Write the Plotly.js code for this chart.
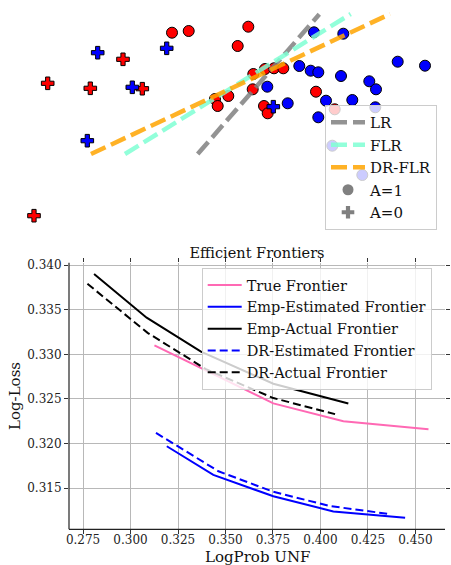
<!DOCTYPE html>
<html>
<head>
<meta charset="utf-8">
<script src="https://cdn.plot.ly/plotly-3.0.1.min.js"></script>
<style>html,body{margin:0;padding:0;background:#fff;}#chart{width:451px;height:565px;}</style>
</head>
<body>
<div id="chart"></div>
<script>
// ---------- Top panel: decision boundaries (feature space, no axes) ----------
const redCircleX = [172, 188.7, 248.3, 237.7, 253.3, 265, 274, 283.3, 252.7, 228.3, 215, 217.7, 264, 267.7, 316, 334.7];
const redCircleY = [32.7, 31, 26.7, 46, 74, 69, 68.3, 68.3, 89.3, 96, 99, 106, 106, 113.3, 91.7, 109.3];
const blueCircleX = [314, 343.3, 299.3, 310.7, 318.3, 341, 369.3, 376, 397.7, 425, 267.3, 287.7, 326, 352.3, 375.3, 318.3, 332.3, 362.3];
const blueCircleY = [32.3, 33.7, 66, 70.7, 72.3, 76, 81.3, 89.3, 61.7, 65.7, 86.7, 103.3, 100.7, 100, 107.3, 117.3, 145.7, 175];
const redCrossX = [47.7, 90.3, 123, 142.3, 34];
const redCrossY = [83.3, 88.3, 59.3, 88.7, 215.7];
const blueCrossX = [97.7, 166.7, 132.3, 87.3, 273.3];
const blueCrossY = [52.7, 48.3, 87.3, 140.7, 106.7];
const lrX = [197.7, 319.3], lrY = [154, 14.3];
const flrX = [125, 350.7], flrY = [154, 14];
const drflrX = [91, 390], drflrY = [154, 14];

// ---------- Bottom panel: efficient frontiers ----------
const trueX = [0.3126, 0.3440, 0.3752, 0.4121, 0.4569];
const trueY = [0.3310, 0.3277, 0.3245, 0.3225, 0.3216];
const empEstX = [0.3191, 0.3436, 0.3752, 0.4068, 0.4446];
const empEstY = [0.3197, 0.3165, 0.3141, 0.3124, 0.3117];
const empActX = [0.2808, 0.3085, 0.3371, 0.3752, 0.4147];
const empActY = [0.3390, 0.3341, 0.3303, 0.3267, 0.3245];
const drEstX = [0.3134, 0.3463, 0.3752, 0.4051, 0.4367];
const drEstY = [0.3212, 0.3169, 0.3146, 0.3130, 0.3121];
const drActX = [0.2773, 0.3090, 0.3400, 0.3752, 0.4077];
const drActY = [0.3379, 0.3324, 0.3283, 0.3251, 0.3233];

const W = 451, H = 565;
const FONT = 'DejaVu Serif, serif';
const topDomY = [1 - 240 / H, 1];
const botDomX = [69 / W, 445 / W];
const botDomY = [1 - 529.3 / H, 1 - 262.7 / H];

function pts(x, y, color, symbol, size) {
  return {x: x, y: y, xaxis: 'x', yaxis: 'y', mode: 'markers', type: 'scatter', showlegend: false,
    legend: 'legend', hoverinfo: 'skip',
    marker: {color: color, symbol: symbol, size: size, line: {color: '#000', width: 1}}};
}
function bound(x, y, name, color) {
  return {x: x, y: y, xaxis: 'x', yaxis: 'y', mode: 'lines', type: 'scatter', name: name,
    legend: 'legend', opacity: 0.85, line: {color: color, width: 4.5, dash: '16px,6px'}};
}
function front(x, y, name, color, dash) {
  return {x: x, y: y, xaxis: 'x2', yaxis: 'y2', mode: 'lines', type: 'scatter', name: name,
    legend: 'legend2', line: {color: color, width: 2, dash: dash}};
}

const traces = [
  pts(redCircleX, redCircleY, '#ff0000', 'circle', 11),
  pts(blueCircleX, blueCircleY, '#0000ff', 'circle', 11),
  pts(redCrossX, redCrossY, '#ff0000', 'cross', 10.5),
  pts(blueCrossX, blueCrossY, '#0000ff', 'cross', 10.5),
  bound(lrX, lrY, 'LR', '#808080'),
  bound(flrX, flrY, 'FLR', '#7fffd4'),
  bound(drflrX, drflrY, 'DR-FLR', '#ffa500'),
  {x: [null], y: [null], xaxis: 'x', yaxis: 'y', mode: 'markers', type: 'scatter', name: 'A=1', legend: 'legend',
    marker: {color: '#808080', symbol: 'circle', size: 11}},
  {x: [null], y: [null], xaxis: 'x', yaxis: 'y', mode: 'markers', type: 'scatter', name: 'A=0', legend: 'legend',
    marker: {color: '#808080', symbol: 'cross', size: 10.5}},
  front(trueX, trueY, 'True Frontier', '#ff69b4', 'solid'),
  front(empEstX, empEstY, 'Emp-Estimated Frontier', '#0000ff', 'solid'),
  front(empActX, empActY, 'Emp-Actual Frontier', '#000000', 'solid'),
  front(drEstX, drEstY, 'DR-Estimated Frontier', '#0000ff', '8px,4px'),
  front(drActX, drActY, 'DR-Actual Frontier', '#000000', '8px,4px')
];

const legendBase = {
  bgcolor: 'rgba(255,255,255,0.8)', bordercolor: '#cccccc', borderwidth: 1,
  xanchor: 'left', yanchor: 'top',
  itemwidth: 34, traceorder: 'normal'
};

const layout = {
  width: W, height: H,
  margin: {l: 0, r: 0, t: 0, b: 0, pad: 0},
  paper_bgcolor: '#fff', plot_bgcolor: 'rgba(0,0,0,0)',
  font: {family: FONT, color: '#111'},
  title: {text: 'Efficient Frontiers', font: {family: FONT, size: 14.5, color: '#111'},
    x: 257 / W, xref: 'paper', xanchor: 'center', y: 1 - 253 / H, yref: 'paper', yanchor: 'middle'},
  xaxis: {domain: [0, 1], range: [0, 451], visible: false, fixedrange: true},
  yaxis: {domain: topDomY, range: [240, 0], visible: false, fixedrange: true},
  xaxis2: {domain: botDomX, anchor: 'y2', range: [0.2676, 0.4656], autorange: false,
    tick0: 0.275, dtick: 0.025, tickformat: '.3f',
    showgrid: true, gridcolor: '#b8b8b8', gridwidth: 1, zeroline: false,
    showline: false, mirror: 'ticks', ticks: 'outside', ticklen: 4, tickwidth: 1, tickcolor: '#333',
    ticklabelstandoff: -5,
    tickfont: {family: FONT, size: 12, color: '#222'}},
  yaxis2: {domain: botDomY, anchor: 'x2', range: [0.3104, 0.34026], autorange: false,
    tick0: 0.315, dtick: 0.005, tickformat: '.3f',
    showgrid: true, gridcolor: '#b8b8b8', gridwidth: 1, zeroline: false,
    showline: false, mirror: 'ticks', ticks: 'outside', ticklen: 4, tickwidth: 1, tickcolor: '#333',
    tickfont: {family: FONT, size: 12, color: '#222'},
    title: {text: 'Log-Loss', font: {family: FONT, size: 15, color: '#111'}, standoff: 2}},
  annotations: [
    {text: 'LogProb UNF', xref: 'paper', yref: 'paper', x: (botDomX[0] + botDomX[1]) / 2, y: 1 - 557 / H,
      xanchor: 'center', yanchor: 'middle', showarrow: false,
      font: {family: FONT, size: 15, color: '#111'}}
  ],
  shapes: [
    {type: 'line', xref: 'paper', yref: 'paper', x0: botDomX[0], x1: botDomX[0], y0: botDomY[0], y1: botDomY[1],
      line: {color: '#222', width: 1.2}},
    {type: 'line', xref: 'paper', yref: 'paper', x0: botDomX[0], x1: botDomX[1], y0: botDomY[0], y1: botDomY[0],
      line: {color: '#222', width: 1.2}}
  ],
  legend: Object.assign({}, legendBase, {x: 325 / W, y: 1 - 105 / H,
    font: {family: FONT, size: 15, color: '#111'}}),
  legend2: Object.assign({}, legendBase, {x: 201.7 / W, y: 1 - 268 / H,
    font: {family: FONT, size: 14.5, color: '#111'}}),
  showlegend: true
};

Plotly.newPlot('chart', traces, layout, {displayModeBar: false, staticPlot: true});
</script>
</body>
</html>
